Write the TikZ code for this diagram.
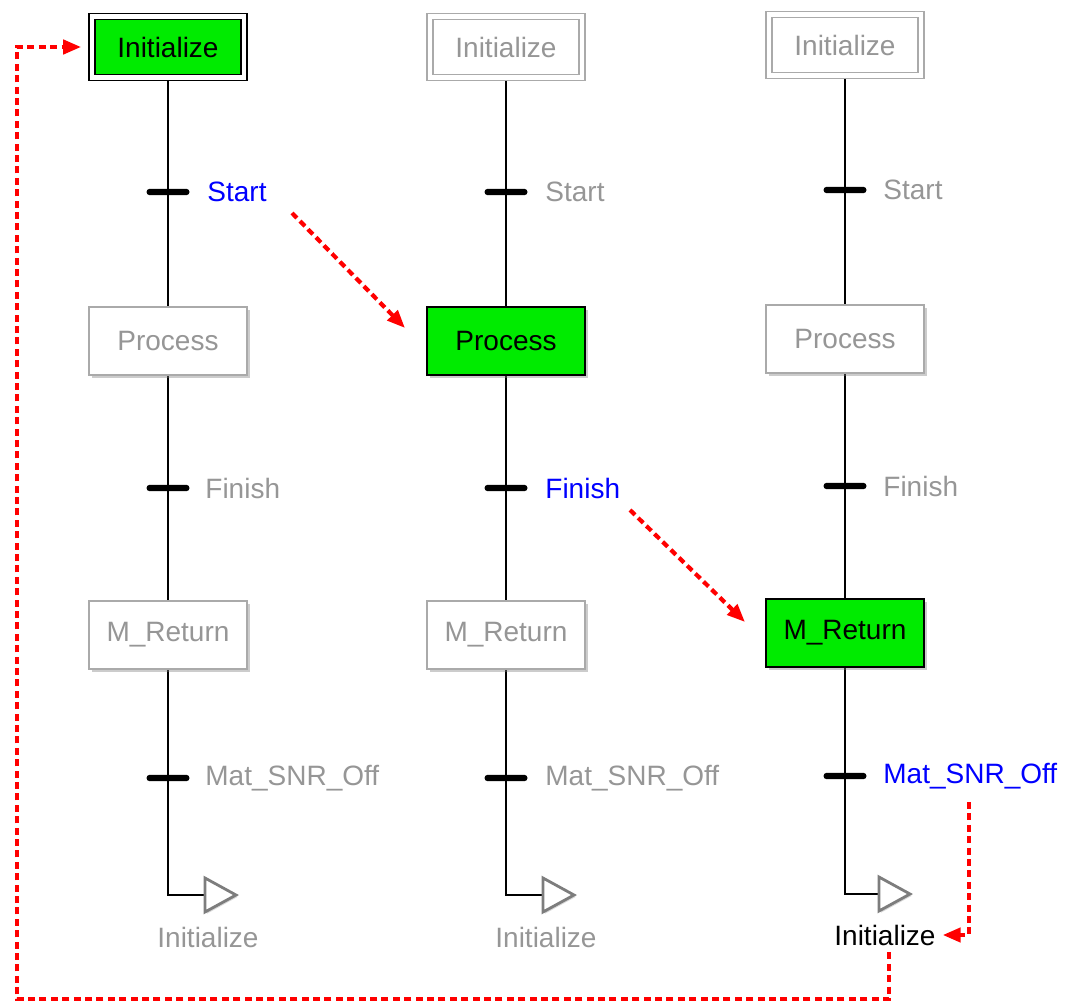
\documentclass[tikz,border=0pt]{standalone}
\usepackage{fontspec}
\setmainfont{Liberation Sans}
\usetikzlibrary{arrows.meta,shadows,backgrounds}
\definecolor{stepgreen}{RGB}{0,235,0}
\definecolor{dimgray}{RGB}{150,150,150}
\definecolor{boxgray}{RGB}{170,170,170}
\definecolor{trigray}{RGB}{125,125,125}
\definecolor{lblue}{RGB}{0,0,255}
\definecolor{jred}{RGB}{255,0,0}
\begin{document}
\begin{tikzpicture}[x=0.5pt,y=-0.5pt,
  every node/.style={font=\fontsize{14}{16}\selectfont},
  stepbox/.style={rectangle, minimum width=79pt, minimum height=34pt, inner sep=0pt, line width=0.8pt,
    drop shadow={shadow xshift=1.6pt,shadow yshift=-1.6pt,opacity=0.4}},
  activebox/.style={stepbox, draw=black, fill=stepgreen, text=black},
  idlebox/.style={stepbox, draw=boxgray, fill=white, text=dimgray},
  initbox/.style={stepbox, minimum width=76pt, minimum height=30.5pt, double, double distance=2.2pt},
  activeinit/.style={initbox, draw=black, fill=stepgreen, text=black},
  idleinit/.style={initbox, draw=boxgray, fill=white, text=dimgray},
  tbar/.style={rectangle, fill=black, minimum width=21.5pt, minimum height=3.2pt, inner sep=0pt, rounded corners=1.6pt},
  tlabel/.style={anchor=west, inner sep=0pt},
  link/.style={line width=1.3pt, black},
  jumptri/.style={draw=trigray, line width=1.4pt, fill=white, line join=miter,
    drop shadow={shadow xshift=0.9pt,shadow yshift=-0.9pt,opacity=0.3}},
  redflow/.style={jred, line width=2.1pt, dash pattern=on 3.5pt off 2.2pt, -{Triangle[length=9pt,width=7pt]}}
]
\useasboundingbox (0,0) rectangle (1066,1001);

% ---------- column 1 ----------
\node[activeinit] (i1) at (168,47) {Initialize};
\node[tbar] (t1a) at (168,192) {};
\node[tlabel,text=lblue] (l1a) at (207,192) {Start};
\node[idlebox] (p1) at (168,341) {Process};
\node[tbar] (t1b) at (168,488) {};
\node[tlabel,text=dimgray] (l1b) at (205,488) {Finish};
\node[idlebox] (m1) at (168,635) {M\_Return};
\node[tbar] (t1c) at (168,778) {};
\node[tlabel,text=dimgray] (l1c) at (205,778) {Mat\_SNR\_Off};
\coordinate (j1) at (205,895);
\node[text=dimgray] (n1) at (208,937) {Initialize};

% ---------- column 2 ----------
\node[idleinit] (i2) at (506,47) {Initialize};
\node[tbar] (t2a) at (506,192) {};
\node[tlabel,text=dimgray] (l2a) at (545,192) {Start};
\node[activebox] (p2) at (506,341) {Process};
\node[tbar] (t2b) at (506,488) {};
\node[tlabel,text=lblue] (l2b) at (545,488) {Finish};
\node[idlebox] (m2) at (506,635) {M\_Return};
\node[tbar] (t2c) at (506,778) {};
\node[tlabel,text=dimgray] (l2c) at (545,778) {Mat\_SNR\_Off};
\coordinate (j2) at (543,895);
\node[text=dimgray] (n2) at (546,937) {Initialize};

% ---------- column 3 ----------
\node[idleinit] (i3) at (845,45) {Initialize};
\node[tbar] (t3a) at (845,190) {};
\node[tlabel,text=dimgray] (l3a) at (883,190) {Start};
\node[idlebox] (p3) at (845,339) {Process};
\node[tbar] (t3b) at (845,486) {};
\node[tlabel,text=dimgray] (l3b) at (883,486) {Finish};
\node[activebox] (m3) at (845,633) {M\_Return};
\node[tbar] (t3c) at (845,776) {};
\node[tlabel,text=lblue] (l3c) at (883,776) {Mat\_SNR\_Off};
\coordinate (j3) at (879,894);
\node[text=black] (n3) at (885,935) {Initialize};

% ---------- links ----------
\begin{pgfonlayer}{background}
\foreach \c in {1,2,3}{
  \draw[link] (i\c.center) -- (p\c.center);
  \draw[link] (p\c.center) -- (m\c.center);
  \draw[link] (m\c.center) |- (j\c);
}
\end{pgfonlayer}
\foreach \c in {1,2,3}{
  \draw[jumptri] (j\c) -- ++(0,-17) -- ++(31,17) -- ++(-31,17) -- cycle;
}

% ---------- red flow ----------
\coordinate (r1s) at (292,213);
\coordinate (r1e) at (405,328);
\coordinate (r2s) at (630,510);
\coordinate (r2e) at (745,622);
\coordinate (r3s) at (969,802);
\coordinate (c1) at (889,999);
\coordinate (c2) at (17,999);
\coordinate (c3) at (17,47);
\draw[redflow] (r1s) -- (r1e);
\draw[redflow] (r2s) -- (r2e);
\draw[redflow] (r3s) |- (n3.east);
\draw[redflow, shorten >=5pt] (n3.south -| c1) -- (c1) -- (c2) -- (c3) -- (i1.west);
\end{tikzpicture}
\end{document}
